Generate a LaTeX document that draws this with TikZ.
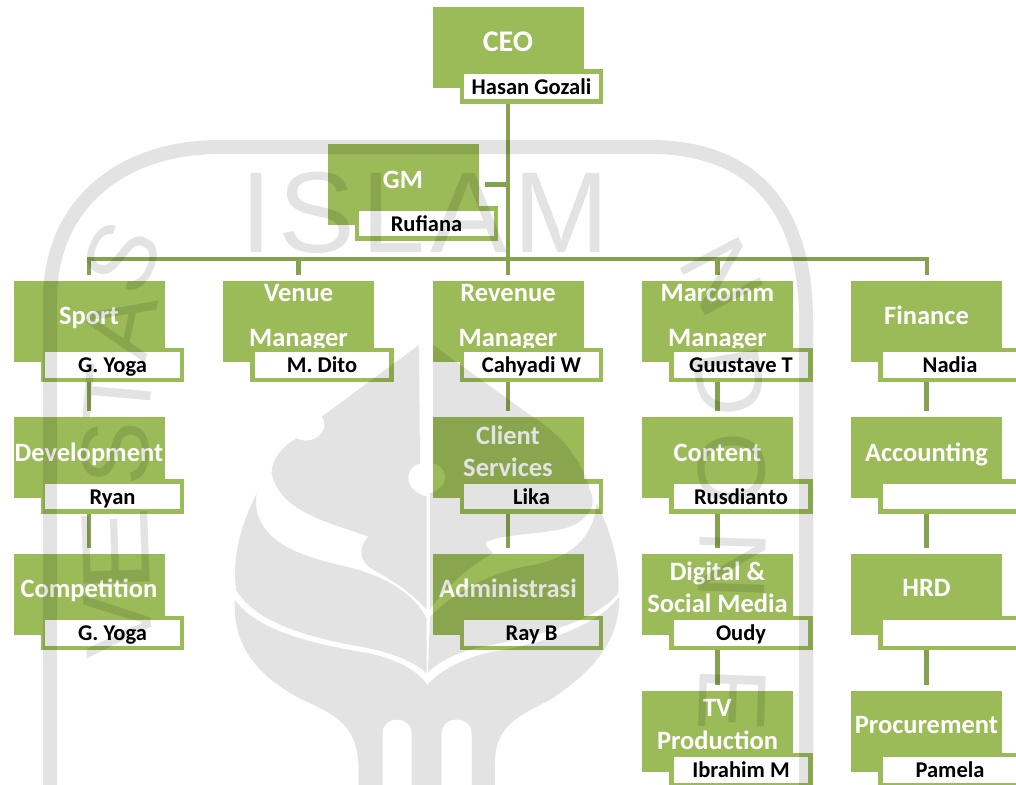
\documentclass[tikz,border=0pt]{standalone}
\usepackage{fontspec}
\setmainfont{Carlito}
\newfontfamily\wmfont{Liberation Sans}
\usetikzlibrary{backgrounds}
\definecolor{olive}{HTML}{9BBB59}
\definecolor{linkcol}{HTML}{86A24F}
\tikzset{
  greenbox/.style={fill=olive,draw=none,minimum width=151pt,minimum height=81pt,inner sep=0pt,outer sep=0pt},
  titletext/.style={text=white,font=\fontsize{26.5}{31}\selectfont\bfseries,anchor=base,align=center,inner sep=0pt},
  namebox/.style={fill=white,draw=olive,line width=4.5pt,minimum width=139pt,minimum height=30pt,inner sep=0pt,outer sep=0pt,text=black,font=\fontsize{22.5}{24}\selectfont\bfseries,text height=17pt,text depth=2pt},
  link/.style={draw=linkcol,line width=4.6pt},
  buslink/.style={draw=linkcol,line width=4pt},
  wm/.style={fill=black,fill opacity=.11,draw=none},
  wmring/.style={draw=black,draw opacity=.11,line width=14pt},
  wmletter/.style={text=black,text opacity=.11,font=\wmfont\fontsize{96}{96}\selectfont,inner sep=0pt}
}
\newcommand{\nameoff}{39pt}
\newcommand{\orgunit}[7][]{%
  % options of the title, id, cx, cy, title position, title, person
  \node[greenbox] (#2) at (#3,#4) {};
  \node[titletext,#1] (#2T) at (#3,#5) {#6};
  \node[namebox] (#2N) at ([xshift=23.5pt,yshift=-\nameoff]#2.center) {#7};
}
\begin{document}
\begin{tikzpicture}[x=1pt,y=-1pt]
\useasboundingbox (0,0) rectangle (1016,784);
\clip (0,0) rectangle (1016,784);

\orgunit[font=\fontsize{30}{31}\selectfont\bfseries]{ceo}{508}{47.5}{52}{CEO}{Hasan Gozali}
\orgunit{gm}{403}{184.5}{188}{GM}{Rufiana}

\orgunit{dev}{89}{457.5}{461}{Development}{Ryan}
\orgunit{comp}{89}{594}{597}{Competition}{G. Yoga}
\orgunit[anchor=center]{client}{508}{457.5}{451}{Client\\[1pt]Services}{Lika}
\orgunit{admin}{508}{594}{597}{Administrasi}{Ray B}
\orgunit{content}{717.5}{457.5}{461}{Content}{Rusdianto}
\orgunit[anchor=center]{digital}{717.5}{594}{587}{Digital \&\\[1pt]Social Media}{Oudy}
\orgunit[anchor=center]{tv}{717.5}{731}{724}{TV\\[2pt]Production}{Ibrahim M}
\orgunit{accounting}{926.5}{457.5}{461}{Accounting}{}
\orgunit{hrd}{926.5}{594}{596}{HRD}{}
\orgunit{procurement}{926.5}{731}{733}{Procurement}{Pamela}

\renewcommand{\nameoff}{43.5pt}
\orgunit{sport}{89}{321.5}{324}{Sport}{G. Yoga}
\orgunit[anchor=center]{venue}{298.5}{321.5}{318}{Venue\\[14pt]Manager}{M. Dito}
\orgunit[anchor=center]{revenue}{508}{321.5}{318}{Revenue\\[14pt]Manager}{Cahyadi W}
\orgunit[anchor=center]{marcomm}{717.5}{321.5}{318}{Marcomm\\[14pt]Manager}{Guustave T}
\orgunit{finance}{926.5}{321.5}{324}{Finance}{Nadia}

\coordinate (bus) at (revenue.north |- 0,259);
\coordinate (gmjoin) at (ceo.south |- gm.center);

\begin{scope}[on background layer]
  \fill[white] (0,0) rectangle (1016,784);
  \draw[buslink,shorten <=6pt] (sport.north) |- (bus);
  \draw[buslink,shorten <=6pt] (finance.north) |- (bus);
  \draw[link,shorten >=6pt] (ceo.south) -- (revenue.north);
  \draw[link,shorten <=6pt] (gm.east) -- (gmjoin);
  \draw[link,shorten <=6pt] (venue.north) -- (venue.north |- bus);
  \draw[link,shorten <=6pt] (marcomm.north) -- (marcomm.north |- bus);
  \draw[link,shorten >=6pt] (sport.south) -- (dev.north);
  \draw[link,shorten >=6pt] (dev.south) -- (comp.north);
  \draw[link,shorten >=6pt] (revenue.south) -- (client.north);
  \draw[link,shorten >=6pt] (client.south) -- (admin.north);
  \draw[link,shorten >=6pt] (marcomm.south) -- (content.north);
  \draw[link,shorten >=6pt] (content.south) -- (digital.north);
  \draw[link,shorten >=6pt] (digital.south) -- (tv.north);
  \draw[link,shorten >=6pt] (finance.south) -- (accounting.north);
  \draw[link,shorten >=6pt] (accounting.south) -- (hrd.north);
  \draw[link,shorten >=6pt] (hrd.south) -- (procurement.north);
\end{scope}

% watermark overlay
\draw[wmring] (50,800) -- (50,300) .. controls (50,205) and (120,147) .. (220,147) -- (650,147) .. controls (750,147) and (806,205) .. (806,320) -- (806,800);
\node[wmletter,font=\wmfont\fontsize{115}{115}\selectfont\addfontfeature{LetterSpace=5},anchor=base] (wmIslam) at (425,252) {ISLAM};
\node[wmletter,rotate=94] (wmV) at (118,625) {V};
\node[wmletter,rotate=92] (wmE) at (116,550) {\scalebox{1.35}[1]{E}};
\node[wmletter,rotate=88] (wmR) at (116,453) {S};
\node[wmletter,rotate=85] (wmT) at (118,393) {T};
\node[wmletter,rotate=78] (wmA) at (120,325) {A};
\node[wmletter,rotate=65] (wmS) at (122,258) {S};
\node[wmletter,rotate=-62] (wmN) at (722,277) {N};
\node[wmletter,rotate=-80] (wmD) at (730,382) {D};
\node[wmletter,rotate=-88] (wmO) at (732,470) {O};
\node[wmletter,rotate=-92] (wmNb) at (732,565) {N};
\node[wmletter,rotate=-92] (wmEb) at (732,700) {E};
\begin{scope}[shift={(200,380)},x=0.3333pt,y=-0.3333pt]
  % upper left flame
  \path[wm] (657,-105) -- (660,250) .. controls (610,265) and (610,330) .. (680,350) -- (680,690)
    .. controls (640,640) and (560,590) .. (520,570) .. controls (480,545) and (470,510) .. (505,470)
    .. controls (400,430) and (240,400) .. (215,280) .. controls (215,230) and (260,190) .. (290,175)
    .. controls (340,200) and (395,150) .. (365,110) -- cycle;
  % upper right flame
  \path[wm] (699,-105) -- (990,105) .. controls (1040,135) and (1140,210) .. (1170,330)
    .. controls (1190,370) and (1170,400) .. (1150,415)
    .. controls (1100,470) and (950,450) .. (860,485) .. controls (850,495) and (870,510) .. (880,520)
    .. controls (800,560) and (720,640) .. (690,690) -- (690,340) .. controls (750,320) and (750,265) .. (700,250) -- cycle;
  % left petal
  \path[wm] (170,340) .. controls (105,470) and (100,560) .. (108,630)
    .. controls (170,730) and (320,770) .. (480,800) .. controls (600,820) and (660,860) .. (680,880) -- (680,715)
    .. controls (640,640) and (560,590) .. (440,560) .. controls (300,530) and (150,480) .. (170,340) -- cycle;
  % right petal
  \path[wm] (1190,370) .. controls (1240,470) and (1260,560) .. (1255,640)
    .. controls (1180,730) and (1000,770) .. (850,800) .. controls (770,815) and (710,850) .. (684,878) -- (690,710)
    .. controls (760,640) and (870,575) .. (1000,555) .. controls (1120,530) and (1180,470) .. (1190,370) -- cycle;
  % base
  \path[wm] (105,660) .. controls (170,750) and (330,790) .. (480,815) .. controls (600,835) and (660,880) .. (682,915)
    .. controls (720,870) and (800,830) .. (880,815) .. controls (1030,790) and (1190,740) .. (1258,650)
    .. controls (1260,790) and (1170,880) .. (1050,960) .. controls (950,1010) and (885,1040) .. (885,1150) -- (885,1300) -- (815,1300) -- (815,1060)
    .. controls (815,1005) and (725,1005) .. (725,1060) -- (725,1300) -- (635,1300) -- (635,1060)
    .. controls (635,1005) and (548,1005) .. (548,1060) -- (548,1300) -- (475,1300) -- (475,1150)
    .. controls (470,1050) and (420,1010) .. (330,970) .. controls (190,905) and (95,810) .. (105,660) -- cycle;
\end{scope}
\end{tikzpicture}
\end{document}
